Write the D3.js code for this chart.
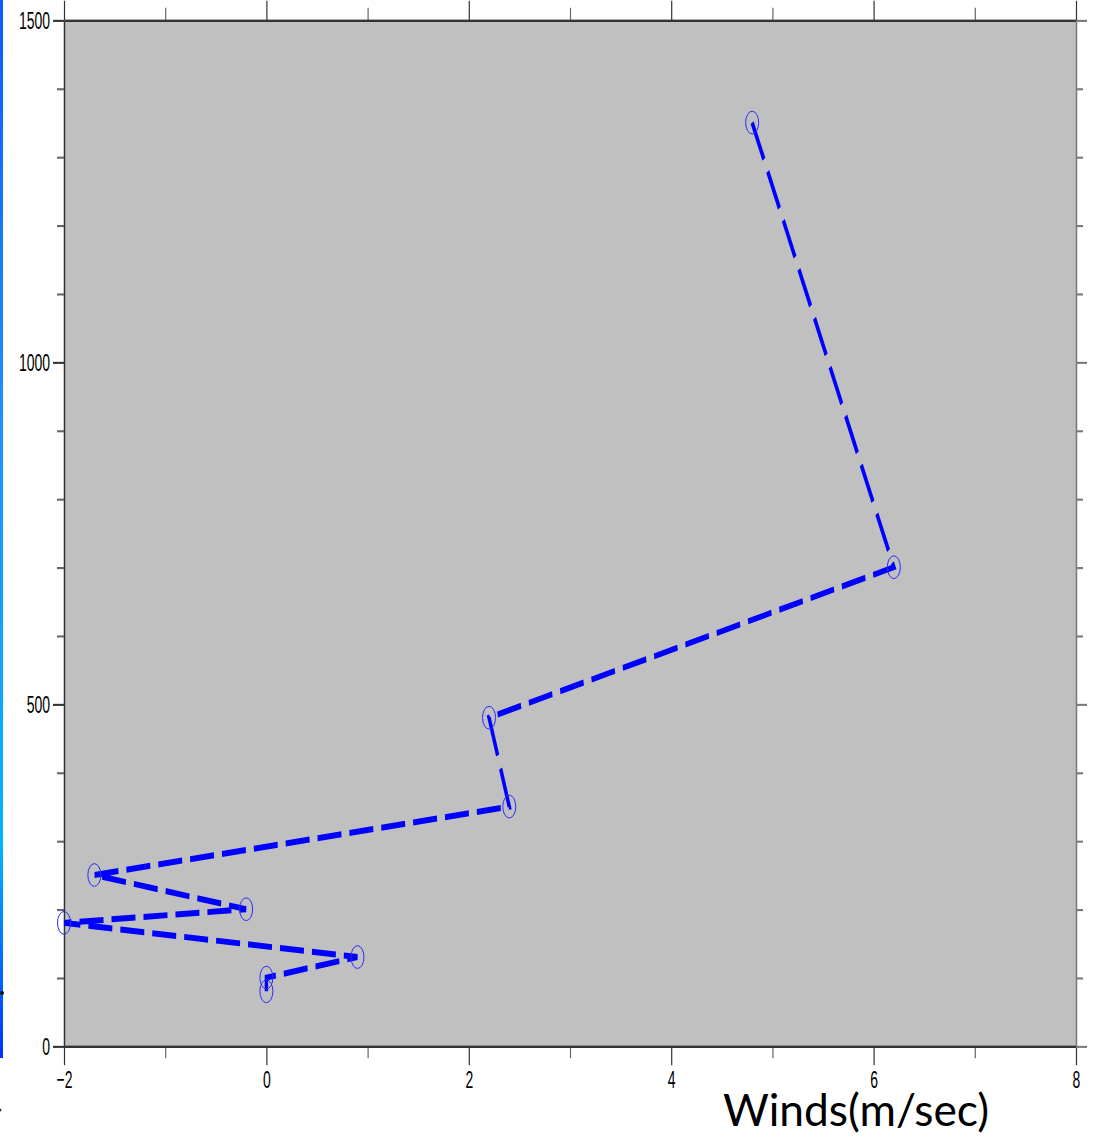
<!DOCTYPE html>
<html>
<head>
<meta charset="utf-8">
<script src="https://cdn.jsdelivr.net/npm/d3@7"></script>
<style>
  body { margin: 0; background: #fff; }
  svg { display: block; }
  .tick text { font-family: "Liberation Sans", Arial, sans-serif; }
</style>
</head>
<body>
<div id="chart"></div>
<script>
(function() {
  'use strict';
  var WIDTH = 1094;
  var HEIGHT = 1141;
  // the picture was stretched vertically, so the plot is drawn squashed then scaled back
  var STRETCH = 1.75;

  // wind profile: speed (m/sec) against height
  var windSpeed = [4.8, 6.2, 2.2, 2.4, -1.7, -0.2, -2.0, 0.9, 0.0, 0.0];
  var heights = [1350, 700, 480, 350, 250, 200, 180, 130, 100, 80];
  var xMajorTicks = [-2, 0, 2, 4, 6, 8];
  var xMinorTicks = [-1, 1, 3, 5, 7];
  var yMajorTicks = [0, 500, 1000, 1500];
  var yMinorTicks = [100, 200, 300, 400, 600, 700, 800, 900, 1100, 1200, 1300, 1400];
  var xTitle = 'Winds(m/sec)';

  var margin = {top: 20, right: 18, bottom: 95, left: 64};
  var x0 = margin.left, x1 = WIDTH - margin.right;
  var yTop = margin.top / STRETCH, yBot = (HEIGHT - margin.bottom) / STRETCH;

  var x = d3.scaleLinear().domain([-2, 8]).range([x0, x1]);
  var y = d3.scaleLinear().domain([0, 1500]).range([yBot, yTop]);

  var svg = d3.select('#chart').append('svg')
    .attr('width', WIDTH)
    .attr('height', HEIGHT);

  // slide edge artefacts on the left
  var grad = svg.append('defs').append('linearGradient')
    .attr('id', 'edge').attr('x1', 0).attr('y1', 0).attr('x2', 0).attr('y2', 1);
  grad.append('stop').attr('offset', '0%').attr('stop-color', '#0a5cff');
  grad.append('stop').attr('offset', '40%').attr('stop-color', '#1e90ff');
  grad.append('stop').attr('offset', '80%').attr('stop-color', '#00b4ff');
  grad.append('stop').attr('offset', '100%').attr('stop-color', '#0033ff');
  svg.append('rect').attr('x', 0).attr('y', 0).attr('width', 3).attr('height', 1058)
    .attr('fill', 'url(#edge)');
  svg.append('circle').attr('cx', 2).attr('cy', 993).attr('r', 2).attr('fill', '#111');
  svg.append('circle').attr('cx', 0).attr('cy', 1110).attr('r', 1.5).attr('fill', '#333');

  var g = svg.append('g').attr('transform', 'scale(1,' + STRETCH + ')');

  g.append('rect')
    .attr('x', x0).attr('y', yTop)
    .attr('width', x1 - x0).attr('height', yBot - yTop)
    .attr('fill', '#c0c0c0');

  function styleAxis(sel, color, labels) {
    sel.select('.domain').attr('stroke', color).attr('stroke-width', 1.3);
    sel.selectAll('.tick line').attr('stroke', color).attr('stroke-width', 1.2);
    sel.selectAll('.tick text').attr('fill', '#000').attr('font-size', 14);
    if (!labels) sel.selectAll('.tick text').remove();
  }

  // minor ticks first, majors drawn on top
  var axes = [
    {gen: d3.axisBottom(x), at: 'translate(0,' + yBot + ')', c: '#333', lab: true, minor: xMinorTicks, major: xMajorTicks},
    {gen: d3.axisTop(x), at: 'translate(0,' + yTop + ')', c: '#333', lab: false, minor: xMinorTicks, major: xMajorTicks},
    {gen: d3.axisLeft(y), at: 'translate(' + x0 + ',0)', c: '#333', lab: true, minor: yMinorTicks, major: yMajorTicks},
    {gen: d3.axisRight(y), at: 'translate(' + x1 + ',0)', c: '#7a7a7a', lab: false, minor: yMinorTicks, major: yMajorTicks}
  ];
  axes.forEach(function(a) {
    var minor = g.append('g').attr('transform', a.at)
      .call(a.gen.tickValues(a.minor).tickSize(7).tickSizeOuter(0).tickFormat(''));
    styleAxis(minor, a.c === '#333' ? '#666' : a.c, false);
    var major = g.append('g').attr('transform', a.at)
      .call(a.gen.tickValues(a.major).tickSize(11).tickSizeOuter(0).tickPadding(3).tickFormat(d3.format('d')));
    styleAxis(major, a.c, a.lab);
  });

  var pts = windSpeed.map(function(v, i) { return {x: v, y: heights[i]}; });

  var line = d3.line()
    .x(function(d) { return x(d.x); })
    .y(function(d) { return y(d.y); });

  g.append('path')
    .datum(pts)
    .attr('d', line)
    .attr('fill', 'none')
    .attr('stroke', '#0000ff')
    .attr('stroke-width', 3.4)
    .attr('stroke-dasharray', '24,8');

  g.selectAll('circle.pt')
    .data(pts)
    .enter().append('circle')
    .attr('class', 'pt')
    .attr('cx', function(d) { return x(d.x); })
    .attr('cy', function(d) { return y(d.y); })
    .attr('r', 6.5)
    .attr('fill', 'none')
    .attr('stroke', '#2a2aff')
    .attr('stroke-width', 1)
    .attr('vector-effect', 'non-scaling-stroke');

  svg.append('text')
    .attr('x', 723)
    .attr('y', 1126)
    .attr('font-family', 'Lato, "Open Sans", sans-serif')
    .attr('font-size', 45)
    .attr('fill', '#000')
    .attr('textLength', 266)
    .attr('lengthAdjust', 'spacingAndGlyphs')
    .text(xTitle);
})();
</script>
</body>
</html>
